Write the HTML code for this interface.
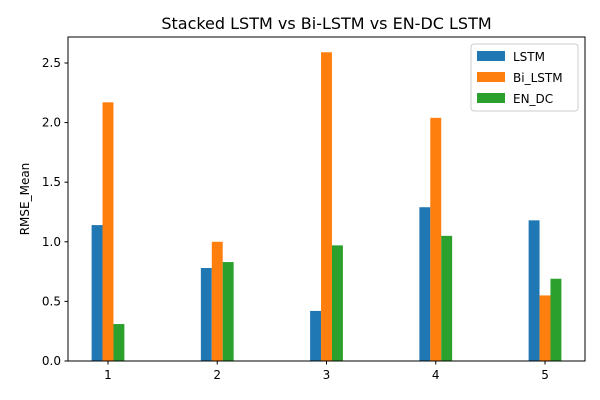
<!DOCTYPE html>
<html><head><meta charset="utf-8"><style>
body{margin:0;background:#fff;}
svg{display:block;font-family:"DejaVu Sans","Liberation Sans",sans-serif;}
</style></head><body>
<svg id="chart" width="600" height="400"></svg>
<script>
const categories=[1,2,3,4,5];
const lstm=[1.14,0.78,0.42,1.29,1.18];
const biLstm=[2.17,1.00,2.59,2.04,0.55];
const enDc=[0.31,0.83,0.97,1.05,0.69];
const yTicks=[0.0,0.5,1.0,1.5,2.0,2.5];
const seriesNames=["LSTM","Bi_LSTM","EN_DC"];
const colors=["#1f77b4","#ff7f0e","#2ca02c"];
const L=68,R=585,T=37,B=361;
const xMin=0.634,xMax=5.366,yMin=0,yMax=2.718;
const xs=v=>L+(v-xMin)/(xMax-xMin)*(R-L);
const ys=v=>B-(v-yMin)/(yMax-yMin)*(B-T);
const svg=document.getElementById('chart');
const NS='http://www.w3.org/2000/svg';
function mk(tag,attrs,parent){const e=document.createElementNS(NS,tag);for(const k in attrs)e.setAttribute(k,attrs[k]);(parent||svg).appendChild(e);return e;}
const series=[lstm,biLstm,enDc];
const bw=0.1;
series.forEach((arr,si)=>{
  arr.forEach((v,i)=>{
    const c=categories[i]+(si-1)*bw;
    const r=mk('rect',{x:xs(c-bw/2),y:ys(v),width:xs(c+bw/2)-xs(c-bw/2),height:ys(0)-ys(v),fill:colors[si]});
    
    
  });
});
const frame=mk('rect',{x:L,y:T,width:R-L,height:B-T,fill:'none',stroke:'#000','stroke-width':1});


yTicks.forEach(t=>{
  mk('line',{x1:L-3.5,x2:L,y1:ys(t),y2:ys(t),stroke:'#000'});
  const tx=mk('text',{x:L-7,y:ys(t)+4,'text-anchor':'end','font-size':12});
  tx.textContent=t.toFixed(1);
  
  
});
categories.forEach(c=>{
  mk('line',{x1:xs(c),x2:xs(c),y1:B,y2:B+3.5,stroke:'#000'});
  const tx=mk('text',{x:xs(c),y:B+18,'text-anchor':'middle','font-size':12});
  tx.textContent=c;
  
  
});
const yt=mk('text',{x:29,y:(T+B)/2,'text-anchor':'middle','font-size':12,transform:`rotate(-90 29 ${(T+B)/2})`});
yt.textContent='RMSE_Mean';


const ti=mk('text',{x:(L+R)/2,y:29,'text-anchor':'middle','font-size':16});
ti.textContent='Stacked LSTM vs Bi-LSTM vs EN-DC LSTM';


const lg=mk('g',{});


mk('rect',{x:471,y:44,width:107,height:67,rx:3,fill:'#fff',stroke:'#ccc'},lg);
seriesNames.forEach((n,i)=>{
  const y=51+i*21;
  const sw=mk('rect',{x:477,y:y,width:28,height:10,fill:colors[i]},lg);
  
  
  const t=mk('text',{x:513,y:y+10,'font-size':12},lg);
  t.textContent=n;
  
  
});
</script>
</body></html>
